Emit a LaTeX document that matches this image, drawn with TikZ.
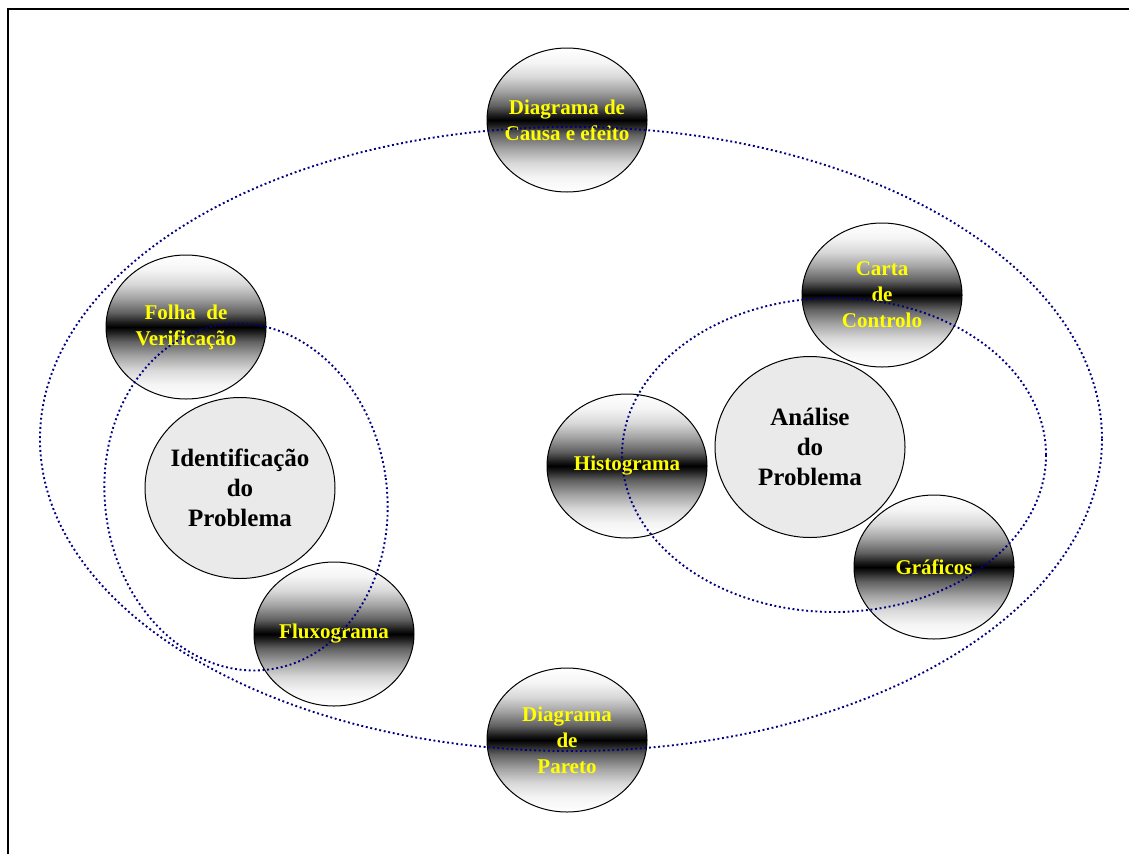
\documentclass[tikz,border=0pt]{standalone}
\usepackage{fontspec}
\setmainfont{Liberation Serif}
\usetikzlibrary{shapes.geometric}

% white - black band - white, vertical
\pgfdeclareverticalshading{bandshade}{100bp}{%
  color(0bp)=(white); color(25bp)=(white);
  color(30bp)=(white!96!black); color(35bp)=(white!85!black);
  color(40bp)=(white!64!black); color(45bp)=(white!38!black);
  color(48.5bp)=(white!10!black);
  color(50bp)=(black);
  color(51.5bp)=(white!10!black); color(55bp)=(white!38!black);
  color(60bp)=(white!64!black); color(65bp)=(white!85!black);
  color(70bp)=(white!96!black);
  color(75bp)=(white); color(100bp)=(white)}

\definecolor{ringblue}{RGB}{0,0,128}
\definecolor{toolyellow}{RGB}{255,255,0}
\definecolor{corefill}{RGB}{234,234,234}

\tikzset{
  tool/.style={ellipse, draw=black, line width=1pt, shading=bandshade,
    minimum width=160pt, minimum height=144pt, inner sep=-25pt,
    align=center, text=toolyellow,
    font=\fontsize{21}{26}\selectfont\bfseries},
  core/.style={ellipse, draw=black, line width=1pt, fill=corefill,
    minimum width=190pt, minimum height=181pt, inner sep=-25pt,
    align=center, text=black,
    font=\fontsize{25}{30}\selectfont\bfseries},
  ring/.style={draw=ringblue, line width=1.9pt, dash pattern=on 1.9pt off 2.7pt}
}

\begin{document}
\begin{tikzpicture}[x=1pt, y=-1pt]
  \useasboundingbox (0,0) rectangle (1129,854);

  % page frame (top and left edges)
  \draw[line width=2pt] (1129,9) -- (8,9) -- (8,854);

  % problem cores
  \node[core] (ident) at (240,488) {Identificação\\do\\Problema};
  \node[core] (anal)  at (810,447) {Análise\\do\\Problema};

  % quality tools
  \node[tool] (causa) at (567,120) {Diagrama de\\Causa e efeito};
  \node[tool] (folha) at (186,327) {Folha\ \ de\\Verificação};
  \node[tool] (carta) at (882,295) {Carta\\de\\Controlo};
  \node[tool] (histo) at (627,466) {Histograma};
  \node[tool] (graf)  at (934,567) {Gráficos};
  \node[tool] (fluxo) at (334,634) {Fluxograma};
  \node[tool] (pareto) at (567,740) {Diagrama\\de\\Pareto};

  % grouping rings
  \coordinate (outerc) at (571,439);
  \coordinate (leftc)  at (246,497);
  \coordinate (rightc) at (834,455);
  \draw[ring] (outerc) ellipse [x radius=531, y radius=312];
  \draw[ring] (leftc) ellipse [x radius=141, y radius=174, rotate=7.7];
  \draw[ring] (rightc) ellipse [x radius=212, y radius=157];
\end{tikzpicture}
\end{document}
